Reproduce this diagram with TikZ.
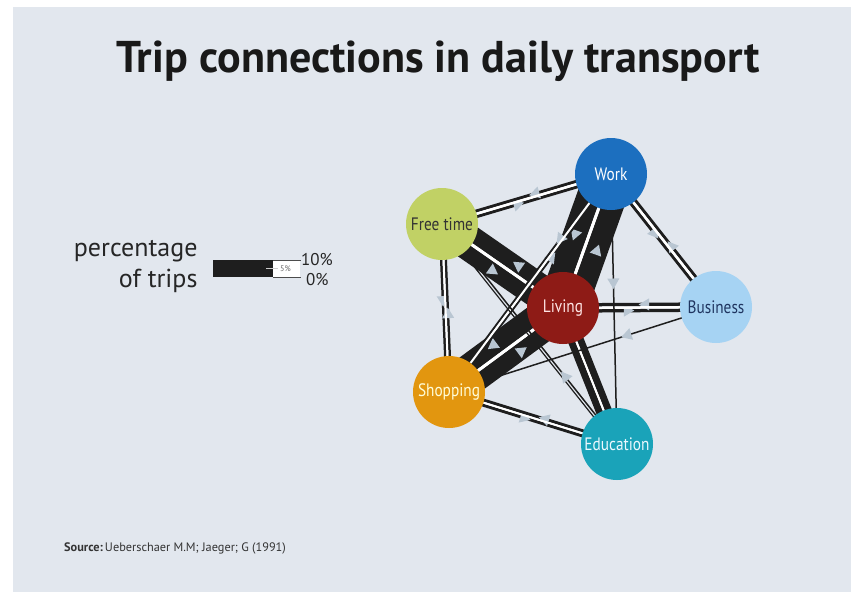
\documentclass[tikz,border=0pt]{standalone}
\usepackage{fontspec}
\setmainfont{PT Sans}
\newfontfamily\condfont[FakeStretch=0.85]{PT Sans}
\newfontfamily\titlefont[FakeStretch=0.99]{PT Sans}
\usetikzlibrary{calc,shapes.geometric}
\pgfdeclarelayer{bg}
\pgfdeclarelayer{lanes}
\pgfsetlayers{bg,lanes,main}
\definecolor{panel}{HTML}{E2E7EE}
\definecolor{trigray}{HTML}{B9C6D2}
\definecolor{cwork}{HTML}{1C6FBF}
\definecolor{cfree}{HTML}{C1D165}
\definecolor{cliving}{HTML}{8E1B16}
\definecolor{cbusiness}{HTML}{A6D3F3}
\definecolor{cshopping}{HTML}{E2960F}
\definecolor{ceducation}{HTML}{1AA3B9}
\definecolor{lanecol}{HTML}{1E1E1E}
\definecolor{tbusiness}{HTML}{1F3560}
\tikzset{
  place/.style={circle, minimum size=72pt, inner sep=0pt, font=\condfont\fontsize{18}{18}\selectfont},
  tri/.style={regular polygon, regular polygon sides=3, shape border rotate=-90, fill=trigray, minimum size=14pt, inner sep=0pt, sloped, allow upside down},
  gapline/.style={white},
}
% lane from A to B on the right side: A B offset width pos
\newcommand\lanet[5]{%
  \draw[lanecol, line width=#4] ($(#1)!#3!-90:(#2)$) -- node[tri, pos=#5]{} ($(#2)!#3!90:(#1)$);}
\newcommand\lanen[4]{%
  \draw[lanecol, line width=#4] ($(#1)!#3!-90:(#2)$) -- ($(#2)!#3!90:(#1)$);}
\newcommand\gapl[3]{\draw[gapline, line width=#3] (#1) -- (#2);}
\begin{document}
\begin{tikzpicture}[x=1pt,y=-1pt]
\useasboundingbox (0,0) rectangle (851,592);
\begin{pgfonlayer}{bg}
  \fill[white] (0,0) rectangle (851,592);
  \fill[panel] (13,7) rectangle (851,592);
\end{pgfonlayer}

% places
\node[place, fill=cwork, text=white] (W) at (611,174) {Work};
\node[place, fill=cfree, text={black!80}] (F) at (442,224) {Free time};
\node[place, fill=cliving, text={red!10}] (L) at (563,308) {Living};
\node[place, fill=cbusiness, text=tbusiness] (B) at (716,307) {Business};
\node[place, fill=cshopping, text={yellow!15}] (S) at (449,392) {Shopping};
\node[place, fill=ceducation, text={cyan!8}] (E) at (617,444) {Education};

\begin{pgfonlayer}{lanes}
  % thick bands
  \lanet{W}{L}{13.5pt}{24pt}{0.48}
  \lanet{L}{W}{12.5pt}{22pt}{0.455}
  \gapl{W}{L}{3pt}
  \lanet{F}{L}{9.5pt}{16pt}{0.46}
  \lanet{L}{F}{9.5pt}{16pt}{0.41}
  \gapl{F}{L}{3pt}
  \lanet{S}{L}{10pt}{17pt}{0.58}
  \lanet{L}{S}{11.5pt}{20pt}{0.55}
  \gapl{S}{L}{3pt}
  \lanen{L}{E}{4.5pt}{7pt}
  \lanen{E}{L}{4.5pt}{7pt}
  \gapl{L}{E}{2pt}
  % thin double lines
  \lanet{L}{B}{3pt}{3.5pt}{0.42}
  \lanet{B}{L}{3pt}{3.5pt}{0.46}
  \gapl{L}{B}{2.5pt}
  \lanet{W}{B}{2.75pt}{3pt}{0.43}
  \lanet{B}{W}{2.75pt}{3pt}{0.44}
  \gapl{W}{B}{2.5pt}
  \lanet{F}{W}{2.75pt}{3pt}{0.44}
  \lanet{W}{F}{2.75pt}{3pt}{0.44}
  \gapl{F}{W}{2.5pt}
  \lanet{F}{S}{2.25pt}{2.5pt}{0.45}
  \lanet{S}{F}{2.25pt}{2.5pt}{0.46}
  \gapl{F}{S}{2pt}
  \lanet{S}{E}{2.5pt}{3pt}{0.45}
  \lanet{E}{S}{2.5pt}{3pt}{0.43}
  \gapl{S}{E}{2pt}
  \lanet{S}{W}{2pt}{2pt}{0.62}
  \lanet{W}{S}{2pt}{2pt}{0.30}
  \gapl{S}{W}{2pt}
  \lanen{F}{E}{1.4pt}{1.2pt}
  \lanet{E}{F}{1.4pt}{1.5pt}{0.30}
  \lanet{W}{E}{0pt}{1.5pt}{0.40}
  \lanet{B}{S}{0pt}{1.5pt}{0.33}
\end{pgfonlayer}

% title
\node[anchor=base, font=\titlefont\bfseries\fontsize{44.5}{44.5}\selectfont, text=black!90] (title) at (438,72) {Trip connections in daily transport};

% legend
\node[anchor=base east, font=\fontsize{26}{26}\selectfont, text=black!85] (lg1) at (201,256) {percentage};
\node[anchor=base east, font=\fontsize{26}{26}\selectfont, text=black!85] (lg2) at (201,287) {of trips};
\fill[white] (273,260) rectangle (300,277);
\fill[lanecol] (213,260) rectangle (273,277);
\draw[black!70, line width=0.8pt] (273,260) -- (301,260) (273,277) -- (301,277);
\draw[white!80!black, line width=0.8pt] (266,268.5) -- (278,268.5);
\node[anchor=west, font=\fontsize{8}{8}\selectfont, text=black!60, inner sep=0pt] (l5) at (280,268.5) {5\%};
\node[anchor=west, font=\fontsize{17}{17}\selectfont, text=black!85, inner sep=0pt] (l10) at (301,260) {10\%};
\node[anchor=west, font=\fontsize{17}{17}\selectfont, text=black!85, inner sep=0pt] (l0) at (306,280) {0\%};

% source
\node[anchor=base west, font=\fontsize{12.3}{12.3}\selectfont, text=black!80, inner sep=0pt] (src) at (64,551) {\textbf{Source:}\,Ueberschaer M.M; Jaeger; G (1991)};
\end{tikzpicture}
\end{document}
